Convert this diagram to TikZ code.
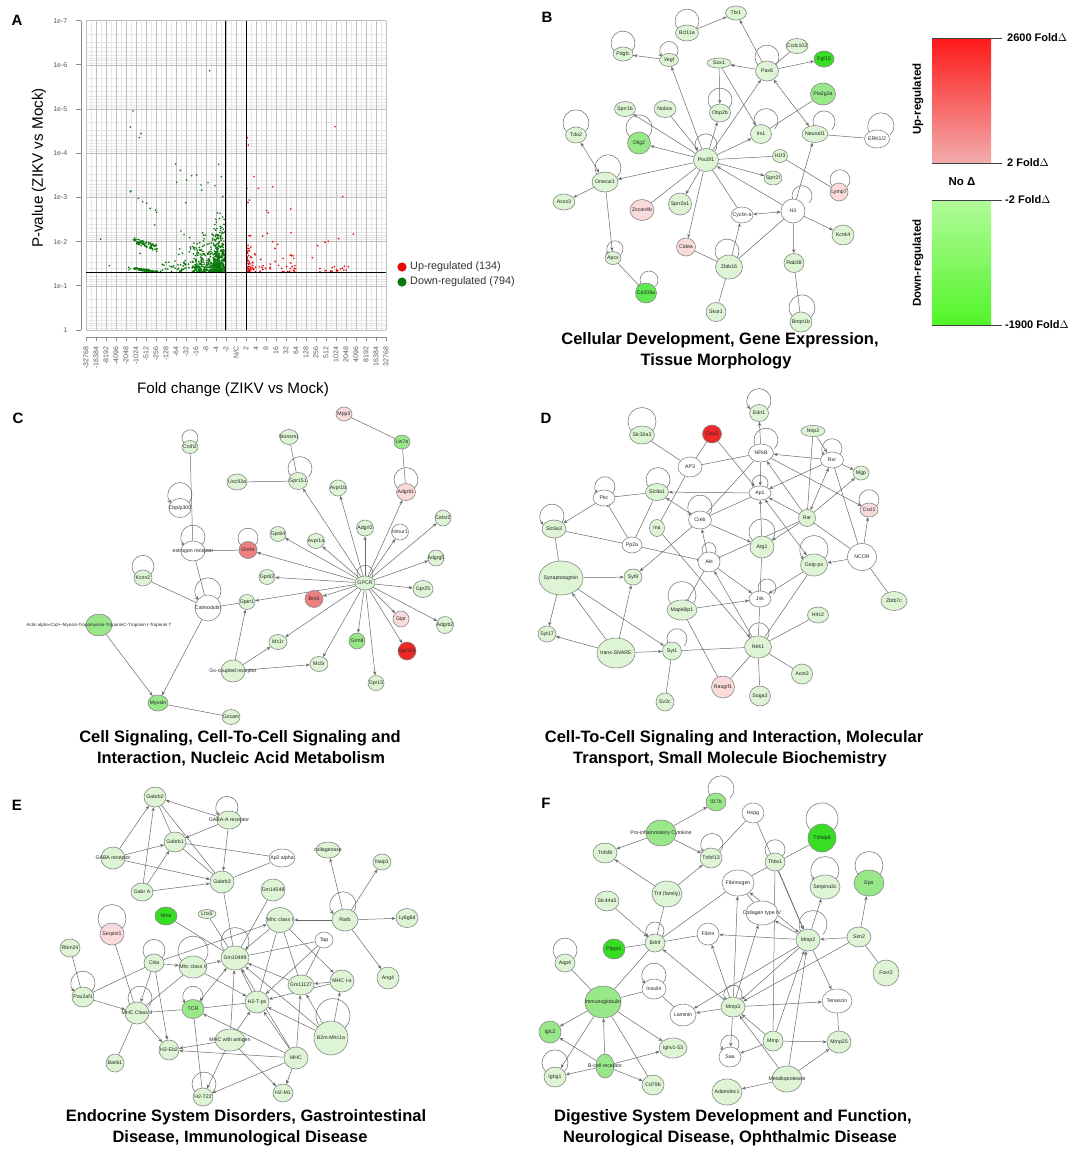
\documentclass[tikz,border=0pt]{standalone}
\usepackage{fontspec}
\setmainfont{Liberation Sans}
\usetikzlibrary{shapes.geometric,arrows.meta}
\pgfdeclarelayer{bg}
\pgfsetlayers{bg,main}
\definecolor{cLG}{RGB}{221,245,213}
\definecolor{cMG}{RGB}{152,232,138}
\definecolor{cBG}{RGB}{55,222,35}
\definecolor{cBGb}{RGB}{95,232,80}
\definecolor{cPK}{RGB}{250,218,218}
\definecolor{cMR}{RGB}{236,128,128}
\definecolor{cRD}{RGB}{238,40,40}
\definecolor{cWN}{RGB}{255,255,255}
\definecolor{ndraw}{RGB}{135,135,135}
\definecolor{edgec}{RGB}{105,105,105}
\definecolor{dotg}{RGB}{10,120,10}
\definecolor{dotr}{RGB}{230,10,10}
\definecolor{rTop}{RGB}{255,25,25}
\definecolor{rBot}{RGB}{242,172,172}
\definecolor{gTop}{RGB}{178,250,155}
\definecolor{gBot}{RGB}{82,245,40}
\newcommand\N[6]{\node[nd={#1}{#2}{#3},label={[lbl]center:#6}] (#4) at (#5) {};}
\newcommand\lp[4][lps]{\draw[#1] ([shift={(#4,{-0.3*#3})}]#2.north) ++(135:#3) arc[start angle=135,end angle=405,radius=#3];}
\begin{document}
\begin{tikzpicture}[x=1pt,y=-1pt,
  nd/.style n args={3}{ellipse, draw=ndraw, line width=0.6pt, fill=#1, minimum width=#2pt, minimum height=#3pt, inner sep=0pt},
  lbl/.style={font=\fontsize{5.2}{6}\selectfont, text=black!85, inner sep=0pt},
  every edge/.style={draw=edgec, line width=0.5pt},
  ar/.style={-{Stealth[length=4pt,width=3.2pt]}},
  ba/.style={{Stealth[length=4pt,width=3.2pt]}-{Stealth[length=4pt,width=3.2pt]}},
  ih/.style={-{Bar[width=4pt]}},
  oa/.style={-{Stealth[open,length=4pt,width=3.8pt]}},
  lps/.style={draw=edgec, line width=0.5pt},
  lpo/.style={lps,{Stealth[open,length=4pt,width=3.8pt]}-},
  lpa/.style={lps,{Stealth[length=4pt,width=3.2pt]}-},
  ttl/.style={font=\fontsize{16.5}{20}\selectfont\bfseries, inner sep=0pt},
  plet/.style={font=\fontsize{15}{18}\selectfont\bfseries, inner sep=0pt},
  gmin/.style={draw=black!9, line width=0.5pt},
  gmaj/.style={draw=black!25, line width=0.6pt},
  axl/.style={draw=black!45, line width=0.8pt},
  tkl/.style={font=\fontsize{7}{8}\selectfont, text=black!65, inner sep=0.5pt},
  legl/.style={draw=black!75, line width=0.9pt},
  legt/.style={font=\fontsize{11}{13}\selectfont\bfseries, anchor=west, inner sep=0pt}
]
\begin{pgfonlayer}{bg}\fill[white] (0,0) rectangle (1084,1152);\end{pgfonlayer}
\useasboundingbox (0,0) rectangle (1084,1152);

%================ PANEL A =================
\node[plet] (la) at (17,20) {A};
\foreach \k in {0,...,60} \draw[gmin] ({86+5*\k},20.7) -- ({86+5*\k},330);
\foreach \d in {0,...,6}{\foreach \m in {2,...,9}{\draw[gmin] (86,{330-44.19*(\d+1-log10(\m))}) -- (386,{330-44.19*(\d+1-log10(\m))});}}
\foreach \k in {0,...,30} \draw[gmaj] ({86+10*\k},20.7) -- ({86+10*\k},330);
\foreach \d in {0,...,7} \draw[gmaj] (86,{330-44.19*\d}) -- (386,{330-44.19*\d});
\draw[axl] (81,20.7) -- (81,330);
\foreach \t [count=\d from 0] in {1,1e-1,1e-2,1e-3,1e-4,1e-5,1e-6,1e-7}{
  \draw[axl] (76,{330-44.19*\d}) -- (81,{330-44.19*\d});
  \node[tkl,anchor=east] at (68,{330-44.19*\d}) {\t};}
\draw[axl] (86,337) -- (386,337);
\foreach \t [count=\k from 0] in {-32768,-16384,-8192,-4096,-2048,-1024,-512,-256,-128,-64,-32,-16,-8,-4,-2,{N/C},2,4,8,16,32,64,128,256,512,1024,2048,4096,8192,16384,32768}{
  \draw[axl] ({86+10*\k},337) -- ({86+10*\k},341);
  \node[tkl,rotate=90,anchor=east] at ({86+10*\k},346) {\t};}
% scatter points
\pgfmathsetseed{7}
\foreach \i in {1,...,250}{\pgfmathsetmacro\xx{224.6-32*rnd}\pgfmathsetmacro\yy{271.8-45*rnd*rnd}\fill[dotg] (\xx,\yy) circle (0.95);}
\foreach \i in {1,...,200}{\pgfmathsetmacro\xx{224.6-12*rnd}\pgfmathsetmacro\yy{271.8-62*rnd*rnd}\fill[dotg] (\xx,\yy) circle (0.95);}
\foreach \i in {1,...,80}{\pgfmathsetmacro\xx{224.6-50*rnd}\pgfmathsetmacro\yy{271.8-80*rnd*rnd*rnd}\fill[dotg] (\xx,\yy) circle (0.95);}
\foreach \i in {1,...,70}{\pgfmathsetmacro\xx{133+25*rnd}\pgfmathsetmacro\yy{237+(\xx-133)*0.35+6*rnd}\fill[dotg] (\xx,\yy) circle (0.95);}
\foreach \i in {1,...,90}{\pgfmathsetmacro\xx{134+24*rnd}\pgfmathsetmacro\yy{min(271.8,267.3+(\xx-134)*0.17+2*rnd)}\fill[dotg] (\xx,\yy) circle (0.95);}
\foreach \i in {1,...,25}{\pgfmathsetmacro\xx{160+30*rnd}\pgfmathsetmacro\yy{262+9.8*rnd}\fill[dotg] (\xx,\yy) circle (0.95);}
\foreach \x/\y in {209.7/70.7,133/111,130.3/127,141/133.3,139.3/137.7,175.7/164,180.3/170.3,176.7/182.3,218.7/164.3,221.3/176.7,191.7/175.7,186.7/180,196.7/175,201/185,201.7/190,208/182.7,215/185.7,222.7/196.7,130.3/191.7,131/191,138.3/198.3,142.7/201.7,146.7/203.3,150/208.3,155.7/210,156.7/212.3,154.7/225,181/231,185.7/202.7,100.7/239,109.3/265.7,128.7/267.3,175/261,173.7/265.7,140/253.3,129/270,130/268.5}
  \fill[dotg] (\x,\y) circle (0.95);
\foreach \i in {1,...,50}{\pgfmathsetmacro\xx{246.8+9*rnd*rnd}\pgfmathsetmacro\yy{271.8-42*rnd*rnd}\fill[dotr] (\xx,\yy) circle (0.95);}
\foreach \i in {1,...,35}{\pgfmathsetmacro\xx{247+50*rnd}\pgfmathsetmacro\yy{271.8-25*rnd*rnd}\fill[dotr] (\xx,\yy) circle (0.95);}
\foreach \i in {1,...,12}{\pgfmathsetmacro\xx{318+30*rnd}\pgfmathsetmacro\yy{268+3.8*rnd}\fill[dotr] (\xx,\yy) circle (0.95);}
\foreach \x/\y in {335/126.7,247.3/137.7,248.3/145,254/176.7,258.3/188.3,272.7/186.7,246.8/188.3,249.3/200,248/202.3,266.7/210.7,268.3/212.7,290.7/209,342.7/196.7,291/232.7,267.3/233.3,353.3/234,338.7/238.7,262.7/236,272.7/241.7,277.7/244.3,275/248.3,317.7/245.7,325/242.3,328.3/241.3,312.3/257.7,344.3/266,348.3/266.7,295/265.7,286.7/266.7,281.7/268.3,332.3/267.7,334.3/266.7,325/270.7,320/271.7}
  \fill[dotr] (\x,\y) circle (0.95);
\draw[black,line width=0.9pt] (225.3,20.7) -- (225.3,330);
\draw[black,line width=0.9pt] (246,20.7) -- (246,330);
\draw[black,line width=0.9pt] (86,272.3) -- (386,272.3);
\node[rotate=90,font=\fontsize{15.2}{18}\selectfont] (ylab) at (39,168) {P-value (ZIKV vs Mock)};
\node[font=\fontsize{15.2}{18}\selectfont] (xlab) at (233,390) {Fold change (ZIKV vs Mock)};
\fill[dotr] (402,267) circle (4.6);
\fill[dotg] (402,282) circle (4.6);
\node[font=\fontsize{10.8}{12}\selectfont,anchor=west,inner sep=0pt,text=black!80] (lup) at (410,267) {Up-regulated (134)};
\node[font=\fontsize{10.8}{12}\selectfont,anchor=west,inner sep=0pt,text=black!80] (ldn) at (410,282) {Down-regulated (794)};

%================ LEGEND =================
\shade[top color=rTop, bottom color=rBot] (932,38) rectangle (991,163);
\shade[top color=gTop, bottom color=gBot] (932,200) rectangle (991,325);
\draw[legl] (932,38) -- (1002,38);
\draw[legl] (932,163) -- (1002,163);
\draw[legl] (932,200) -- (1002,200);
\draw[legl] (932,325) -- (1002,325);
\node[legt] (t1) at (1007,38) {2600 Fold$\Delta$};
\node[legt] (t2) at (1007,163) {2 Fold$\Delta$};
\node[legt] (t3) at (1005,200) {-2 Fold$\Delta$};
\node[legt] (t4) at (1005,325) {-1900 Fold$\Delta$};
\node[font=\fontsize{11.5}{13}\selectfont\bfseries] (noD) at (962,182) {No Δ};
\node[rotate=90,font=\fontsize{11.5}{13}\selectfont\bfseries] (upr) at (918,99) {Up-regulated};
\node[rotate=90,font=\fontsize{11.5}{13}\selectfont\bfseries] (dnr) at (918,263) {Down-regulated};

%================ PANEL B =================
\node[plet] (lb) at (547,17) {B};
\N{cLG}{21}{14}{tbr}{736,13}{Tbr1}
\N{cLG}{23}{16}{bcl}{687,33}{Bcl11a}
\N{cLG}{22}{15}{ccdc}{797,46}{Ccdc103}
\N{cLG}{20}{14}{pdgfc}{623,54}{Pdgfc}
\N{cLG}{19}{13}{vegf}{669,60}{Vegf}
\N{cBG}{20}{16}{fgf}{824,59}{Fgf15}
\N{cLG}{24}{10}{sox}{719,63}{Sox1}
\N{cLG}{23}{20}{pax}{767,71}{Pax6}
\N{cMG}{25}{22}{pla}{823,94}{Pla2g2a}
\N{cLG}{21}{15}{sprr1b}{625,109}{Sprr1b}
\N{cLG}{22}{17}{nobox}{665,109}{Nobox}
\N{cLG}{21}{18}{obp}{720,113}{Obp2b}
\N{cLG}{21}{19}{irs}{761,134}{Irs1}
\N{cLG}{26}{17}{neurod}{815,134}{Neurod1}
\N{cWN}{25}{18}{erk}{877,139}{ERK1/2}
\N{cLG}{21}{16}{tdo}{576,135}{Tdo2}
\N{cMG}{23}{22}{olig}{639,143}{Olig2}
\N{cLG}{25}{23}{pou}{706,160}{Pou5f1}
\N{cLG}{15}{13}{h1f}{780,156}{H1f3}
\N{cLG}{18}{14}{sprr2f}{773,178}{Sprr2f}
\N{cPK}{18}{18}{lym}{839,192}{Lymp7}
\N{cLG}{26}{20}{onecut}{605,182}{Onecut1}
\N{cLG}{22}{16}{acss}{564,202}{Acss3}
\N{cPK}{24}{21}{zscan}{642,210}{Zscan4b}
\N{cLG}{23}{22}{sprr2a}{680,204}{Sprr2a1}
\N{cWN}{22}{16}{cyca}{742,215}{Cyclin-a}
\N{cWN}{24}{24}{hthree}{793,211}{H3}
\N{cLG}{22}{20}{kcnk}{843,235}{Kcnk4}
\N{cPK}{19}{18}{cidea}{686,247}{Cidea}
\N{cLG}{16}{13}{apcs}{613,258}{Apcs}
\N{cLG}{27}{24}{zbtb}{729,267}{Zbtb16}
\N{cLG}{20}{19}{rab}{794,263}{Rab38}
\N{cBGb}{21}{20}{cd}{646,293}{Cd209a}
\N{cLG}{20}{19}{skor}{716,312}{Skor1}
\N{cLG}{22}{20}{bmpr}{801,322}{Bmpr1b}
\node[ttl] (tb1) at (720,340) {Cellular Development, Gene Expression,};
\node[ttl] (tb2) at (716,361) {Tissue Morphology};

%================ PANEL C =================
\node[plet] (lc) at (18,418) {C};
\N{cLG}{16}{13}{cnih}{190,447}{Cnih2}
\N{cLG}{20}{16}{unc}{237,482}{Unc93a}
\N{cWN}{22}{19}{cbp}{180,508}{Cbp/p300}
\N{cWN}{24}{20}{esr}{193,551}{estrogen receptor}
\N{cMR}{18}{17}{gnrhr}{248,550}{Gnrhr}
\N{cLG}{18}{16}{kcnn}{143,578}{Kcnn2}
\N{cWN}{26}{26}{calm}{208,608}{Calmodulin}
\N{cLG}{16}{15}{gper}{247,602}{Gper1}
\node[nd={cMG}{26}{22},label={[lbl,font=\fontsize{4.5}{5}\selectfont]center:Actin alpha-Ca2+-Myosin-Tropomyosin-TroponinC-Troponin I-Troponin T}] (actin) at (99,625) {};
\N{cLG}{24}{22}{gsc}{233,671}{Gs-coupled receptor}
\N{cMG}{20}{16}{myosin}{158,703}{Myosin}
\N{cLG}{18}{15}{gcsam}{231,717}{Gcsam}
\N{cPK}{16}{14}{mpp}{344,414}{Mpp3}
\N{cLG}{18}{15}{ston}{289,437}{Stonsm1}
\N{cMG}{16}{14}{lin}{402,442}{Lin7a}
\N{cLG}{19}{17}{gpr151}{298,481}{Gpr151}
\N{cLG}{17}{16}{avpr1b}{338,488}{Avpr1b}
\N{cPK}{19}{17}{adgrb1}{406,492}{Adgrb1}
\N{cLG}{16}{16}{celsr}{443,518}{Celsr2}
\N{cLG}{17}{16}{adgrf}{365,528}{Adgrf2}
\N{cWN}{17}{16}{nmur}{400,532}{Nmur1}
\N{cLG}{16}{15}{gpr84}{278,534}{Gpr84}
\N{cLG}{17}{15}{avpr1a}{316,541}{Avpr1a}
\N{cLG}{16}{16}{adgrg}{436,558}{Adgrg5}
\N{cLG}{16}{15}{gpr82}{267,577}{Gpr82}
\N{cLG}{20}{14}{gpcr}{365,583}{GPCR}
\N{cLG}{20}{17}{gpr25}{423,589}{Gpr25}
\N{cMR}{18}{17}{brs}{314,599}{Brs3}
\N{cPK}{16}{16}{gipr}{401,619}{Gipr}
\N{cLG}{17}{17}{adgrb2}{445,625}{Adgrb2}
\N{cLG}{18}{15}{mc1r}{278,642}{Mc1r}
\N{cMG}{16}{16}{grm}{357,641}{Grm8}
\N{cRD}{18}{18}{gpr31}{407,651}{Gpr31b}
\N{cLG}{18}{15}{mc5r}{319,664}{Mc5r}
\N{cLG}{16}{15}{gpr15}{376,683}{Gpr15}
\node[ttl] (tc1) at (240,738) {Cell Signaling, Cell-To-Cell Signaling and};
\node[ttl] (tc2) at (241,759) {Interaction, Nucleic Acid Metabolism};

%================ PANEL D =================
\node[plet] (ld) at (546,418) {D};
\N{cLG}{19}{17}{edn}{759,413}{Edn1}
\N{cLG}{25}{18}{slc30}{642,435}{Slc30a3}
\N{cRD}{19}{18}{oca}{712,434}{Oca2}
\N{cLG}{24}{11}{nrip}{813,431}{Nrip2}
\N{cWN}{25}{18}{nfkb}{761,453}{NFkB}
\N{cWN}{24}{20}{ap3}{690,467}{AP3}
\N{cWN}{23}{16}{rxr}{832,460}{Rxr}
\N{cLG}{16}{14}{mgp}{861,473}{Mgp}
\N{cWN}{22}{16}{pkc}{604,498}{Pkc}
\N{cLG}{23}{17}{slc8}{657,492}{Slc8a1}
\N{cWN}{22}{14}{ap1}{760,493}{Ap1}
\N{cPK}{18}{14}{cxcl}{869,510}{Cxcl1}
\N{cWN}{23}{18}{creb}{700,520}{Creb}
\N{cLG}{15}{17}{ina}{657,528}{Ina}
\N{cLG}{17}{17}{rar}{807,518}{Rar}
\N{cLG}{24}{18}{slc6}{554,529}{Slc6a3}
\N{cWN}{20}{16}{pp2a}{632,545}{Pp2a}
\N{cLG}{24}{22}{arg}{762,547}{Arg1}
\N{cWN}{22}{20}{akt}{709,562}{Akt}
\N{cWN}{29}{27}{ncor}{862,557}{NCOR}
\N{cLG}{27}{22}{gstp}{814,565}{Gstp-ps}
\N{cLG}{44}{34}{syn}{561,578}{Synaptotagmin}
\N{cLG}{18}{16}{syt9}{633,577}{Syt9}
\N{cWN}{22}{16}{jnk}{760,599}{Jnk}
\N{cLG}{26}{19}{zbtb7}{894,601}{Zbtb7c}
\N{cLG}{30}{20}{mapk}{682,610}{Mapk8ip1}
\N{cLG}{21}{16}{h4c}{818,615}{H4c2}
\N{cLG}{18}{16}{syt17}{547,634}{Syt17}
\N{cLG}{38}{30}{snare}{616,653}{trans-SNARE}
\N{cLG}{19}{18}{syt1}{672,651}{Syt1}
\N{cLG}{27}{22}{ntrk}{758,647}{Ntrk1}
\N{cLG}{21}{20}{acot}{802,674}{Acot3}
\N{cPK}{23}{22}{rasg}{723,687}{Rasgrf1}
\N{cLG}{21}{20}{soga}{760,696}{Soga3}
\N{cLG}{18}{18}{sv2c}{665,702}{Sv2c}
\node[ttl] (td1) at (734,738) {Cell-To-Cell Signaling and Interaction, Molecular};
\node[ttl] (td2) at (730,759) {Transport, Small Molecule Biochemistry};

%================ PANEL E =================
\node[plet] (le) at (17,805) {E};
\N{cLG}{22}{20}{gabrb2}{155,797}{Gabrb2}
\N{cLG}{24}{18}{gabaa}{229,820}{GABA-A receptor}
\N{cLG}{22}{20}{gabrb1}{175,842}{Gabrb1}
\N{cLG}{24}{22}{gabar}{113,858}{GABA receptor}
\N{cWN}{26}{18}{ap2}{282,858}{Ap2 alpha}
\N{cLG}{24}{22}{gabrb3}{222,882}{Gabrb3}
\N{cLG}{22}{18}{gabra}{142,892}{Gabr A}
\N{cLG}{24}{22}{gm145}{273,890}{Gm14548}
\N{cBG}{22}{18}{nmu}{166,916}{Nmu}
\N{cLG}{18}{9}{lhx}{207,914}{Lhx5}
\N{cPK}{24}{22}{serp}{112,934}{Serpini1}
\N{cLG}{28}{25}{mhci}{280,920}{Mhc class I}
\N{cLG}{26}{22}{rarb}{345,920}{Rarb}
\N{cLG}{24}{16}{coll}{328,850}{collagenase}
\N{cLG}{18}{16}{naip}{382,862}{Naip1}
\N{cLG}{22}{19}{ly6}{407,918}{Ly6g6d}
\N{cWN}{18}{16}{tap}{324,940}{Tap}
\N{cLG}{22}{22}{ang}{388,978}{Ang4}
\N{cLG}{20}{18}{rbm}{70,948}{Rbm24}
\N{cLG}{20}{18}{ciita}{154,963}{Ciita}
\N{cLG}{28}{22}{mhcii}{193,967}{Mhc class II}
\N{cLG}{28}{24}{gm104}{235,958}{Gm10499}
\N{cLG}{22}{20}{pou2}{83,997}{Pou2af1}
\N{cLG}{24}{22}{mhcCII}{137,1013}{MHC Class II}
\N{cMG}{22}{19}{tcr}{193,1009}{TCR}
\N{cLG}{24}{22}{h2t}{257,1002}{H2-T-ps}
\N{cLG}{26}{20}{gm111}{301,985}{Gm11127}
\N{cLG}{24}{22}{mhcia}{342,981}{MHC I-α}
\N{cLG}{34}{34}{b2m}{331,1038}{B2m-Mhc1a}
\N{cLG}{30}{22}{mhcag}{230,1040}{MHC with antigen}
\N{cLG}{20}{20}{h2eb}{169,1050}{H2-Eb2}
\N{cLG}{18}{18}{bank}{115,1063}{Bank1}
\N{cLG}{24}{22}{mhc}{296,1058}{MHC}
\N{cLG}{20}{18}{h2t22}{203,1097}{H2-T22}
\N{cLG}{20}{18}{h2m}{283,1093}{H2-M1}
\node[ttl] (te1) at (246,1117) {Endocrine System Disorders, Gastrointestinal};
\node[ttl] (te2) at (240,1138) {Disease, Immunological Disease};

%================ PANEL F =================
\node[plet] (lf) at (546,803) {F};
\N{cMG}{20}{18}{il17}{716,802}{Il17b}
\N{cWN}{22}{20}{hspg}{753,813}{Hspg}
\N{cMG}{30}{26}{proinf}{661,833}{Pro-inflammatory Cytokine}
\N{cBG}{28}{28}{tnfaip}{822,838}{Tnfaip6}
\N{cLG}{24}{20}{tnfsf8}{605,853}{Tnfsf8}
\N{cLG}{22}{20}{tnfsf13}{711,858}{Tnfsf13}
\N{cLG}{20}{18}{thbs}{775,862}{Thbs1}
\N{cWN}{32}{26}{fibrinogen}{738,883}{Fibrinogen}
\N{cLG}{30}{24}{serpa}{825,887}{Serpina3c}
\N{cMG}{30}{26}{epo}{869,883}{Epo}
\N{cLG}{30}{26}{tnffam}{667,894}{Tnf (family)}
\N{cLG}{24}{20}{slc44}{607,901}{Slc44a5}
\N{cWN}{32}{24}{col4}{762,913}{Collagen type IV}
\N{cWN}{22}{22}{fibrin}{708,934}{Fibrin}
\N{cLG}{20}{18}{bdnf}{655,943}{Bdnf}
\N{cBG}{22}{20}{plppr}{614,949}{Plppr1}
\N{cLG}{24}{22}{mmp2}{808,940}{Mmp2}
\N{cLG}{24}{20}{sim}{859,937}{Sim2}
\N{cLG}{26}{26}{foxr}{886,973}{Foxr2}
\N{cLG}{20}{18}{aqp}{565,963}{Aqp4}
\N{cWN}{24}{20}{insulin}{654,989}{Insulin}
\N{cMG}{36}{32}{igb}{603,1002}{Immunoglobulin}
\N{cLG}{24}{20}{mmp3}{733,1007}{Mmp3}
\N{cWN}{26}{22}{laminin}{683,1015}{Laminin}
\N{cWN}{30}{24}{tenascin}{837,1001}{Tenascin}
\N{cMG}{22}{22}{iglc}{550,1032}{Iglc2}
\N{cLG}{28}{20}{ighv}{673,1048}{Ighv1-53}
\N{cLG}{20}{20}{mmp}{773,1041}{Mmp}
\N{cWN}{22}{20}{saa}{730,1057}{Saa}
\N{cMG}{18}{24}{bcr}{605,1066}{B-cell receptor}
\N{cLG}{22}{20}{ighg}{555,1077}{Ighg1}
\N{cLG}{22}{20}{cd79}{653,1085}{Cd79b}
\N{cLG}{30}{26}{metal}{787,1079}{Metalloprotease}
\N{cLG}{24}{22}{mmp25}{839,1042}{Mmp25}
\N{cLG}{30}{26}{adam}{727,1092}{Adamdec1}
\node[ttl] (tf1) at (733,1117) {Digestive System Development and Function,};
\node[ttl] (tf2) at (730,1138) {Neurological Disease, Ophthalmic Disease};

%================ EDGES & LOOPS (background) =================
\begin{pgfonlayer}{bg}
% B
\path (bcl) edge[ar] (tbr) (pax) edge[ar] (tbr) (pax) edge (ccdc) (pax) edge[ar] (fgf)
 (pax) edge[ar] (sox) (pou) edge[ar] (pax) (pax) edge[ba] (neurod) (vegf) edge[ar] (pdgfc)
 (pou) edge[ar] (vegf) (sox) edge[ar] (obp) (sox) edge[ar] (irs) (pou) edge[ar] (obp)
 (pou) edge[ar] (irs) (pla) edge (irs) (pou) edge[ar] (sprr1b) (nobox) edge[ar] (pou)
 (pou) edge[ar] (olig) (pou) edge[ar] (onecut) (pou) edge (h1f) (pou) edge[ar] (sprr2f)
 (pou) edge[ar] (sprr2a) (pou) edge[ar] (cidea) (zscan) edge (pou) (cyca) edge (pou)
 (hthree) edge[ar] (pou) (hthree) edge[ba] (cyca) (hthree) edge[ar] (neurod) (hthree) edge[ar] (kcnk)
 (hthree) edge[ar] (rab) (zbtb) edge (hthree) (zbtb) edge[ar] (cyca) (cidea) edge (zbtb)
 (zbtb) edge (skor) (rab) edge (bmpr) (neurod) edge (erk) (h1f) edge (lym)
 (onecut) edge[ba] (tdo) (onecut) edge[ar] (acss) (onecut) edge[ar] (apcs) (apcs) edge[ih] (cd);
\lp{bcl}{12}{0} \lp{pdgfc}{12}{0} \lp[lpo]{vegf}{9}{0} \lp{pax}{12}{0} \lp{obp}{12}{0}
\lp{irs}{12}{5} \lp{neurod}{11}{9} \lp[lpa]{erk}{13}{4} \lp{tdo}{13}{0} \lp{olig}{13}{0}
\lp{pou}{11}{0} \lp{onecut}{13}{3} \lp{lym}{10}{1} \lp{hthree}{10}{9} \lp[lpo]{apcs}{8}{2}
\lp{zbtb}{12}{-2} \lp{cd}{9}{3} \lp{bmpr}{13}{1}
% C
\path (cnih) edge (esr) (unc) edge (gpr151) (ston) edge (gpr151) (mpp) edge (lin) (lin) edge (adgrb1)
 (gpcr) edge[ar] (gpr151) edge[ar] (avpr1b) edge[ar] (adgrb1) edge[ar] (celsr) edge[ar] (adgrf)
 edge[ar] (nmur) edge[ar] (gpr84) edge[ar] (avpr1a) edge[ar] (adgrg) edge[ar] (gpr82) edge[ar] (gpr25)
 edge[ar] (brs) edge[ar] (gipr) edge[ar] (adgrb2) edge[ar] (mc1r) edge[ar] (grm) edge[ar] (gpr31)
 edge[ar] (mc5r) edge[ar] (gpr15) edge[ar] (gnrhr) edge[ar] (gper)
 (gnrhr) edge (esr) (esr) edge (calm) (kcnn) edge (calm) (calm) edge (gper) (calm) edge[ar] (myosin)
 (actin) edge[ar] (myosin) (myosin) edge (gcsam) (gsc) edge[ar] (gper) (gsc) edge[ar] (mc1r) (gsc) edge[ar] (mc5r);
\lp{cnih}{8}{0} \lp[lpo]{cbp}{12}{0} \lp[lpa]{esr}{12}{0} \lp{gnrhr}{10}{0} \lp{kcnn}{11}{0}
\lp[lpo]{calm}{13}{0} \lp{gpr151}{12}{2} \lp{adgrb1}{12}{0} \lp{gpcr}{8}{0}
% D
\path (slc30) edge (ap3) (oca) edge (ap3) (oca) edge[ar] (ap1) (ap3) edge (nfkb) (ap3) edge (ina)
 (nfkb) edge[ar] (edn) (nfkb) edge[ar] (ap1) (rxr) edge[ar] (nfkb) (rar) edge[ar] (nfkb) (creb) edge (nfkb)
 (nrip) edge[ih] (rar) (nrip) edge[ar] (rxr) (rxr) edge[ar] (mgp) (rxr) edge (ncor) (rxr) edge[ba] (rar)
 (rar) edge[ar] (mgp) (rxr) edge[ar] (ap1) (nfkb) edge[ar] (cxcl) (ncor) edge[ar] (cxcl) (ncor) edge[ar] (gstp)
 (ncor) edge (zbtb7) (rar) edge (ncor) (rar) edge[ar] (ap1) (rar) edge[ih] (akt) (rar) edge[ar] (arg)
 (ap1) edge[ar] (slc8) (pkc) edge (slc8) (pkc) edge[ar] (slc6) (pp2a) edge[ih] (pkc) (slc8) edge (pp2a)
 (creb) edge[ar] (slc8) (creb) edge (ap1) (creb) edge[ar] (arg) (creb) edge[ar] (syt9) (ina) edge[ar] (ntrk)
 (slc6) edge (pp2a) (pp2a) edge[ih] (akt) (akt) edge[ar] (creb) (arg) edge[ar] (ap1) (ap1) edge[ba] (gstp)
 (akt) edge[ar] (jnk) (ntrk) edge[ar] (akt) (akt) edge[ih] (mapk) (mapk) edge[ar] (jnk) (gstp) edge[ar] (jnk)
 (arg) edge (ntrk) (ntrk) edge (gstp) (ntrk) edge (h4c) (ntrk) edge (acot) (ntrk) edge (soga)
 (ntrk) edge (rasg) (mapk) edge (rasg) (syt1) edge (ntrk) (syn) edge[ar] (syt9) (syn) edge[ar] (syt1)
 (syn) edge[ar] (syt17) (slc6) edge (syn) (snare) edge[ar] (syn) (snare) edge[ar] (syt9)
 (snare) edge[ar] (syt17) (snare) edge[ar] (syt1) (syt1) edge (sv2c);
\lp[lpo]{edn}{12}{0} \lp{slc30}{14}{0} \lp{nfkb}{12}{5} \lp[lpa]{rxr}{10}{0} \lp[lpo]{pkc}{10}{1}
\lp{slc8}{12}{1} \lp{ap1}{8}{0} \lp{cxcl}{10}{0} \lp[lpo]{creb}{12}{0} \lp[lpa]{slc6}{12}{-2}
\lp{arg}{13}{0} \lp[lpa]{gstp}{14}{0} \lp{jnk}{9}{7} \lp{mapk}{14}{0} \lp{syt1}{10}{5}
\lp{ntrk}{10}{1} \lp{akt}{7}{0}
% E
\path (gabar) edge[ar] (gabrb2) (gabra) edge[ar] (gabrb2) (gabaa) edge[ar] (gabrb2) (gabaa) edge[ar] (gabrb1)
 (gabaa) edge[ar] (gabrb3) (gabar) edge[ar] (gabrb1) (gabar) edge[ar] (gabrb3) (gabra) edge[ar] (gabrb1)
 (gabra) edge[ar] (gabrb3) (gabrb2) edge (gabrb1) (gabrb2) edge (gabrb3) (gabrb1) edge (gabrb3)
 (gabrb1) edge (ap2) (gabrb3) edge (ap2) (gabrb3) edge (gm104) (gm145) edge (gm104) (nmu) edge (gm104)
 (lhx) edge (gm104) (mhci) edge[ar] (gm104) (rarb) edge[ar] (mhci) (rarb) edge[ar] (coll) (rarb) edge[ar] (naip)
 (rarb) edge[ar] (ly6) (rarb) edge[ar] (ang) (mhci) edge[ar] (mhcia) (mhci) edge (gm111) (mhci) edge (h2t)
 (tap) edge (gm104) (tap) edge[ar] (h2t) (tap) edge (gm111) (serp) edge (mhcCII) (rbm) edge (pou2)
 (pou2) edge (ciita) (pou2) edge[ar] (mhcCII) (ciita) edge[ar] (mhcCII) (ciita) edge[ar] (mhcii)
 (ciita) edge[ar] (h2eb) (ciita) edge[ar] (mhci) (mhcii) edge[ar] (gm104) (mhcii) edge[ar] (h2t)
 (mhcCII) edge (mhcii) (mhcCII) edge[ar] (h2eb) (mhcCII) edge (tcr) (mhcCII) edge (bank)
 (tcr) edge[ba] (gm104) (tcr) edge (h2t) (tcr) edge (h2t22) (mhcag) edge[ar] (gm104) (mhcag) edge[ar] (h2t)
 (mhcag) edge[ar] (h2eb) (mhcag) edge[ar] (h2t22) (mhcag) edge[ar] (h2m) (mhc) edge[ar] (h2eb)
 (mhc) edge[ar] (tcr) (mhc) edge[ar] (h2t22) (mhc) edge[ar] (h2m) (mhc) edge[ar] (gm111) (mhc) edge[ar] (h2t)
 (mhc) edge[ar] (gm104) (b2m) edge[ar] (gm111) (b2m) edge[ar] (h2t) (b2m) edge[ar] (mhcia) (b2m) edge[ar] (gm104)
 (mhcia) edge[ar] (gm111) (mhcia) edge[ar] (h2t) (gm111) edge[ar] (gm104) (h2t) edge (gm104);
\lp[lpo]{gabaa}{11}{-2} \lp{serp}{14}{0} \lp{ciita}{11}{0} \lp{mhcii}{15}{0} \lp{gm104}{14}{0}
\lp[lpa]{pou2}{12}{0} \lp{mhcCII}{12}{3} \lp[lpo]{tcr}{10}{0} \lp{h2t22}{12}{1} \lp[lpa]{rarb}{13}{-2}
\lp{b2m}{17}{2}
% F
\path (proinf) edge[ar] (il17) (proinf) edge[ar] (tnfsf8) (proinf) edge[oa] (tnfsf13) (tnffam) edge[ar] (tnfsf8)
 (tnffam) edge[ar] (tnfsf13) (tnffam) edge (bdnf) (hspg) edge (tnfsf13) (hspg) edge[ar] (mmp2)
 (tnfaip) edge (fibrinogen) (thbs) edge[ar] (mmp2) (thbs) edge (mmp) (bdnf) edge (fibrinogen)
 (fibrin) edge (bdnf) (slc44) edge[oa] (bdnf) (plppr) edge (bdnf) (bdnf) edge (igb) (mmp3) edge[ar] (bdnf)
 (mmp2) edge[ar] (fibrin) (mmp2) edge[ar] (col4) (mmp2) edge[ba] (fibrinogen) (mmp2) edge[ar] (laminin)
 (mmp2) edge[ar] (mmp3) (mmp2) edge[ar] (serpa) (mmp2) edge[ar] (tenascin) (metal) edge[ar] (mmp2)
 (sim) edge[ar] (mmp2) (sim) edge[ar] (epo) (sim) edge (foxr) (sim) edge[ar] (mmp3)
 (mmp3) edge[ar] (fibrinogen) (mmp3) edge[ar] (fibrin) (mmp3) edge[ar] (col4) (mmp3) edge[ar] (laminin)
 (mmp3) edge[oa] (saa) (mmp3) edge[ar] (tenascin) (mmp) edge[ar] (mmp3) (mmp) edge[ar] (mmp2)
 (mmp) edge[ar] (mmp25) (mmp) edge[ar] (saa) (metal) edge[ar] (mmp3) (metal) edge[ar] (adam)
 (metal) edge[ar] (mmp25) (tenascin) edge (mmp25) (fibrinogen) edge (col4) (insulin) edge (laminin)
 (insulin) edge (igb) (aqp) edge (igb) (igb) edge[ar] (iglc) (igb) edge[ar] (ighg) (igb) edge[ar] (ighv)
 (igb) edge (cd79) (bcr) edge[ar] (igb) (bcr) edge[ar] (iglc) (bcr) edge[ar] (ighg) (bcr) edge[ar] (ighv)
 (bcr) edge[ar] (cd79);
\lp{il17}{13}{5} \lp{tnfaip}{16}{0} \lp[lpo]{tnfsf13}{11}{1} \lp{thbs}{10}{0} \lp[lpo]{serpa}{14}{0}
\lp{epo}{14}{0} \lp[lpo]{bdnf}{9}{0} \lp{mmp2}{14}{5} \lp{aqp}{12}{0} \lp[lpo]{insulin}{12}{0}
\lp[lpo]{mmp3}{9}{0} \lp[lpo]{saa}{9}{0} \lp{ighg}{13}{0}
\end{pgfonlayer}
\end{tikzpicture}
\end{document}
